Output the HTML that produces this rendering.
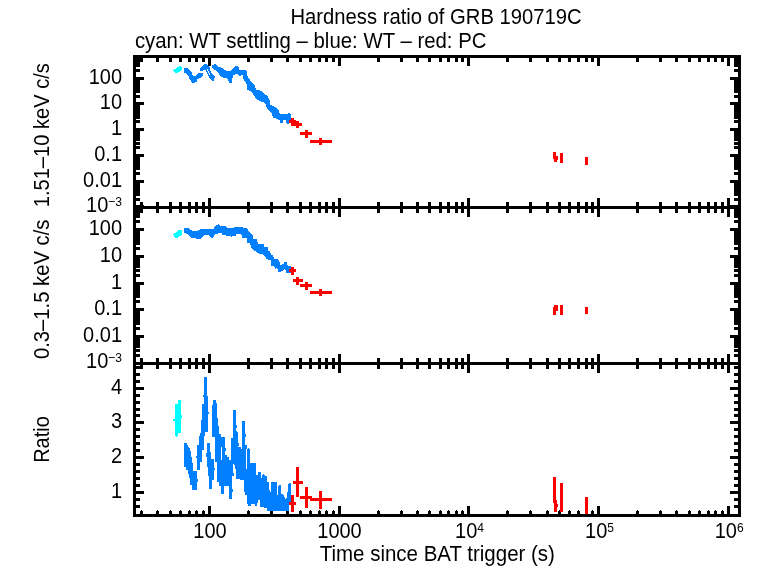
<!DOCTYPE html>
<html lang="en">
<head>
<meta charset="utf-8">
<title>Hardness ratio of GRB 190719C</title>
<style>
html,body{margin:0;padding:0;background:#fff;}
svg{display:block;}
text{font-family:"Liberation Sans",Arial,Helvetica,sans-serif;fill:#000;}
</style>
</head>
<body>
<svg width="758" height="566" viewBox="0 0 758 566">
<rect x="0" y="0" width="758" height="566" fill="#fff"/>
<g shape-rendering="crispEdges">
<rect x="133" y="55" width="3" height="462" fill="#000"/>
<rect x="738" y="55" width="3" height="462" fill="#000"/>
<rect x="133" y="55" width="608" height="3" fill="#000"/>
<rect x="133" y="206" width="608" height="3" fill="#000"/>
<rect x="133" y="362" width="608" height="3" fill="#000"/>
<rect x="133" y="514" width="608" height="3" fill="#000"/>
<rect x="140" y="58" width="3" height="4" fill="#000"/>
<rect x="140" y="202" width="3" height="11" fill="#000"/>
<rect x="140" y="358" width="3" height="11" fill="#000"/>
<rect x="140" y="511" width="3" height="3" fill="#000"/>
<rect x="141" y="510" width="1" height="1" fill="#000"/>
<rect x="156" y="58" width="3" height="4" fill="#000"/>
<rect x="156" y="202" width="3" height="11" fill="#000"/>
<rect x="156" y="358" width="3" height="11" fill="#000"/>
<rect x="156" y="511" width="3" height="3" fill="#000"/>
<rect x="157" y="510" width="1" height="1" fill="#000"/>
<rect x="169" y="58" width="3" height="4" fill="#000"/>
<rect x="169" y="202" width="3" height="11" fill="#000"/>
<rect x="169" y="358" width="3" height="11" fill="#000"/>
<rect x="169" y="511" width="3" height="3" fill="#000"/>
<rect x="170" y="510" width="1" height="1" fill="#000"/>
<rect x="179" y="58" width="3" height="4" fill="#000"/>
<rect x="179" y="202" width="3" height="11" fill="#000"/>
<rect x="179" y="358" width="3" height="11" fill="#000"/>
<rect x="179" y="511" width="3" height="3" fill="#000"/>
<rect x="180" y="510" width="1" height="1" fill="#000"/>
<rect x="188" y="58" width="3" height="4" fill="#000"/>
<rect x="188" y="202" width="3" height="11" fill="#000"/>
<rect x="188" y="358" width="3" height="11" fill="#000"/>
<rect x="188" y="511" width="3" height="3" fill="#000"/>
<rect x="189" y="510" width="1" height="1" fill="#000"/>
<rect x="195" y="58" width="3" height="4" fill="#000"/>
<rect x="195" y="202" width="3" height="11" fill="#000"/>
<rect x="195" y="358" width="3" height="11" fill="#000"/>
<rect x="195" y="511" width="3" height="3" fill="#000"/>
<rect x="196" y="510" width="1" height="1" fill="#000"/>
<rect x="202" y="58" width="3" height="4" fill="#000"/>
<rect x="202" y="202" width="3" height="11" fill="#000"/>
<rect x="202" y="358" width="3" height="11" fill="#000"/>
<rect x="202" y="511" width="3" height="3" fill="#000"/>
<rect x="203" y="510" width="1" height="1" fill="#000"/>
<rect x="208" y="58" width="3" height="8" fill="#000"/>
<rect x="208" y="198" width="3" height="19" fill="#000"/>
<rect x="208" y="354" width="3" height="19" fill="#000"/>
<rect x="208" y="506" width="3" height="8" fill="#000"/>
<rect x="247" y="58" width="3" height="4" fill="#000"/>
<rect x="247" y="202" width="3" height="11" fill="#000"/>
<rect x="247" y="358" width="3" height="11" fill="#000"/>
<rect x="247" y="511" width="3" height="3" fill="#000"/>
<rect x="248" y="510" width="1" height="1" fill="#000"/>
<rect x="270" y="58" width="3" height="4" fill="#000"/>
<rect x="270" y="202" width="3" height="11" fill="#000"/>
<rect x="270" y="358" width="3" height="11" fill="#000"/>
<rect x="270" y="511" width="3" height="3" fill="#000"/>
<rect x="271" y="510" width="1" height="1" fill="#000"/>
<rect x="286" y="58" width="3" height="4" fill="#000"/>
<rect x="286" y="202" width="3" height="11" fill="#000"/>
<rect x="286" y="358" width="3" height="11" fill="#000"/>
<rect x="286" y="511" width="3" height="3" fill="#000"/>
<rect x="287" y="510" width="1" height="1" fill="#000"/>
<rect x="299" y="58" width="3" height="4" fill="#000"/>
<rect x="299" y="202" width="3" height="11" fill="#000"/>
<rect x="299" y="358" width="3" height="11" fill="#000"/>
<rect x="299" y="511" width="3" height="3" fill="#000"/>
<rect x="300" y="510" width="1" height="1" fill="#000"/>
<rect x="309" y="58" width="3" height="4" fill="#000"/>
<rect x="309" y="202" width="3" height="11" fill="#000"/>
<rect x="309" y="358" width="3" height="11" fill="#000"/>
<rect x="309" y="511" width="3" height="3" fill="#000"/>
<rect x="310" y="510" width="1" height="1" fill="#000"/>
<rect x="318" y="58" width="3" height="4" fill="#000"/>
<rect x="318" y="202" width="3" height="11" fill="#000"/>
<rect x="318" y="358" width="3" height="11" fill="#000"/>
<rect x="318" y="511" width="3" height="3" fill="#000"/>
<rect x="319" y="510" width="1" height="1" fill="#000"/>
<rect x="325" y="58" width="3" height="4" fill="#000"/>
<rect x="325" y="202" width="3" height="11" fill="#000"/>
<rect x="325" y="358" width="3" height="11" fill="#000"/>
<rect x="325" y="511" width="3" height="3" fill="#000"/>
<rect x="326" y="510" width="1" height="1" fill="#000"/>
<rect x="332" y="58" width="3" height="4" fill="#000"/>
<rect x="332" y="202" width="3" height="11" fill="#000"/>
<rect x="332" y="358" width="3" height="11" fill="#000"/>
<rect x="332" y="511" width="3" height="3" fill="#000"/>
<rect x="333" y="510" width="1" height="1" fill="#000"/>
<rect x="338" y="58" width="3" height="8" fill="#000"/>
<rect x="338" y="198" width="3" height="19" fill="#000"/>
<rect x="338" y="354" width="3" height="19" fill="#000"/>
<rect x="338" y="506" width="3" height="8" fill="#000"/>
<rect x="377" y="58" width="3" height="4" fill="#000"/>
<rect x="377" y="202" width="3" height="11" fill="#000"/>
<rect x="377" y="358" width="3" height="11" fill="#000"/>
<rect x="377" y="511" width="3" height="3" fill="#000"/>
<rect x="378" y="510" width="1" height="1" fill="#000"/>
<rect x="400" y="58" width="3" height="4" fill="#000"/>
<rect x="400" y="202" width="3" height="11" fill="#000"/>
<rect x="400" y="358" width="3" height="11" fill="#000"/>
<rect x="400" y="511" width="3" height="3" fill="#000"/>
<rect x="401" y="510" width="1" height="1" fill="#000"/>
<rect x="416" y="58" width="3" height="4" fill="#000"/>
<rect x="416" y="202" width="3" height="11" fill="#000"/>
<rect x="416" y="358" width="3" height="11" fill="#000"/>
<rect x="416" y="511" width="3" height="3" fill="#000"/>
<rect x="417" y="510" width="1" height="1" fill="#000"/>
<rect x="428" y="58" width="3" height="4" fill="#000"/>
<rect x="428" y="202" width="3" height="11" fill="#000"/>
<rect x="428" y="358" width="3" height="11" fill="#000"/>
<rect x="428" y="511" width="3" height="3" fill="#000"/>
<rect x="429" y="510" width="1" height="1" fill="#000"/>
<rect x="439" y="58" width="3" height="4" fill="#000"/>
<rect x="439" y="202" width="3" height="11" fill="#000"/>
<rect x="439" y="358" width="3" height="11" fill="#000"/>
<rect x="439" y="511" width="3" height="3" fill="#000"/>
<rect x="440" y="510" width="1" height="1" fill="#000"/>
<rect x="447" y="58" width="3" height="4" fill="#000"/>
<rect x="447" y="202" width="3" height="11" fill="#000"/>
<rect x="447" y="358" width="3" height="11" fill="#000"/>
<rect x="447" y="511" width="3" height="3" fill="#000"/>
<rect x="448" y="510" width="1" height="1" fill="#000"/>
<rect x="455" y="58" width="3" height="4" fill="#000"/>
<rect x="455" y="202" width="3" height="11" fill="#000"/>
<rect x="455" y="358" width="3" height="11" fill="#000"/>
<rect x="455" y="511" width="3" height="3" fill="#000"/>
<rect x="456" y="510" width="1" height="1" fill="#000"/>
<rect x="461" y="58" width="3" height="4" fill="#000"/>
<rect x="461" y="202" width="3" height="11" fill="#000"/>
<rect x="461" y="358" width="3" height="11" fill="#000"/>
<rect x="461" y="511" width="3" height="3" fill="#000"/>
<rect x="462" y="510" width="1" height="1" fill="#000"/>
<rect x="467" y="58" width="3" height="8" fill="#000"/>
<rect x="467" y="198" width="3" height="19" fill="#000"/>
<rect x="467" y="354" width="3" height="19" fill="#000"/>
<rect x="467" y="506" width="3" height="8" fill="#000"/>
<rect x="506" y="58" width="3" height="4" fill="#000"/>
<rect x="506" y="202" width="3" height="11" fill="#000"/>
<rect x="506" y="358" width="3" height="11" fill="#000"/>
<rect x="506" y="511" width="3" height="3" fill="#000"/>
<rect x="507" y="510" width="1" height="1" fill="#000"/>
<rect x="529" y="58" width="3" height="4" fill="#000"/>
<rect x="529" y="202" width="3" height="11" fill="#000"/>
<rect x="529" y="358" width="3" height="11" fill="#000"/>
<rect x="529" y="511" width="3" height="3" fill="#000"/>
<rect x="530" y="510" width="1" height="1" fill="#000"/>
<rect x="546" y="58" width="3" height="4" fill="#000"/>
<rect x="546" y="202" width="3" height="11" fill="#000"/>
<rect x="546" y="358" width="3" height="11" fill="#000"/>
<rect x="546" y="511" width="3" height="3" fill="#000"/>
<rect x="547" y="510" width="1" height="1" fill="#000"/>
<rect x="558" y="58" width="3" height="4" fill="#000"/>
<rect x="558" y="202" width="3" height="11" fill="#000"/>
<rect x="558" y="358" width="3" height="11" fill="#000"/>
<rect x="558" y="511" width="3" height="3" fill="#000"/>
<rect x="559" y="510" width="1" height="1" fill="#000"/>
<rect x="568" y="58" width="3" height="4" fill="#000"/>
<rect x="568" y="202" width="3" height="11" fill="#000"/>
<rect x="568" y="358" width="3" height="11" fill="#000"/>
<rect x="568" y="511" width="3" height="3" fill="#000"/>
<rect x="569" y="510" width="1" height="1" fill="#000"/>
<rect x="577" y="58" width="3" height="4" fill="#000"/>
<rect x="577" y="202" width="3" height="11" fill="#000"/>
<rect x="577" y="358" width="3" height="11" fill="#000"/>
<rect x="577" y="511" width="3" height="3" fill="#000"/>
<rect x="578" y="510" width="1" height="1" fill="#000"/>
<rect x="585" y="58" width="3" height="4" fill="#000"/>
<rect x="585" y="202" width="3" height="11" fill="#000"/>
<rect x="585" y="358" width="3" height="11" fill="#000"/>
<rect x="585" y="511" width="3" height="3" fill="#000"/>
<rect x="586" y="510" width="1" height="1" fill="#000"/>
<rect x="591" y="58" width="3" height="4" fill="#000"/>
<rect x="591" y="202" width="3" height="11" fill="#000"/>
<rect x="591" y="358" width="3" height="11" fill="#000"/>
<rect x="591" y="511" width="3" height="3" fill="#000"/>
<rect x="592" y="510" width="1" height="1" fill="#000"/>
<rect x="597" y="58" width="3" height="8" fill="#000"/>
<rect x="597" y="198" width="3" height="19" fill="#000"/>
<rect x="597" y="354" width="3" height="19" fill="#000"/>
<rect x="597" y="506" width="3" height="8" fill="#000"/>
<rect x="636" y="58" width="3" height="4" fill="#000"/>
<rect x="636" y="202" width="3" height="11" fill="#000"/>
<rect x="636" y="358" width="3" height="11" fill="#000"/>
<rect x="636" y="511" width="3" height="3" fill="#000"/>
<rect x="637" y="510" width="1" height="1" fill="#000"/>
<rect x="659" y="58" width="3" height="4" fill="#000"/>
<rect x="659" y="202" width="3" height="11" fill="#000"/>
<rect x="659" y="358" width="3" height="11" fill="#000"/>
<rect x="659" y="511" width="3" height="3" fill="#000"/>
<rect x="660" y="510" width="1" height="1" fill="#000"/>
<rect x="675" y="58" width="3" height="4" fill="#000"/>
<rect x="675" y="202" width="3" height="11" fill="#000"/>
<rect x="675" y="358" width="3" height="11" fill="#000"/>
<rect x="675" y="511" width="3" height="3" fill="#000"/>
<rect x="676" y="510" width="1" height="1" fill="#000"/>
<rect x="688" y="58" width="3" height="4" fill="#000"/>
<rect x="688" y="202" width="3" height="11" fill="#000"/>
<rect x="688" y="358" width="3" height="11" fill="#000"/>
<rect x="688" y="511" width="3" height="3" fill="#000"/>
<rect x="689" y="510" width="1" height="1" fill="#000"/>
<rect x="698" y="58" width="3" height="4" fill="#000"/>
<rect x="698" y="202" width="3" height="11" fill="#000"/>
<rect x="698" y="358" width="3" height="11" fill="#000"/>
<rect x="698" y="511" width="3" height="3" fill="#000"/>
<rect x="699" y="510" width="1" height="1" fill="#000"/>
<rect x="707" y="58" width="3" height="4" fill="#000"/>
<rect x="707" y="202" width="3" height="11" fill="#000"/>
<rect x="707" y="358" width="3" height="11" fill="#000"/>
<rect x="707" y="511" width="3" height="3" fill="#000"/>
<rect x="708" y="510" width="1" height="1" fill="#000"/>
<rect x="714" y="58" width="3" height="4" fill="#000"/>
<rect x="714" y="202" width="3" height="11" fill="#000"/>
<rect x="714" y="358" width="3" height="11" fill="#000"/>
<rect x="714" y="511" width="3" height="3" fill="#000"/>
<rect x="715" y="510" width="1" height="1" fill="#000"/>
<rect x="721" y="58" width="3" height="4" fill="#000"/>
<rect x="721" y="202" width="3" height="11" fill="#000"/>
<rect x="721" y="358" width="3" height="11" fill="#000"/>
<rect x="721" y="511" width="3" height="3" fill="#000"/>
<rect x="722" y="510" width="1" height="1" fill="#000"/>
<rect x="727" y="58" width="3" height="8" fill="#000"/>
<rect x="727" y="198" width="3" height="19" fill="#000"/>
<rect x="727" y="354" width="3" height="19" fill="#000"/>
<rect x="727" y="506" width="3" height="8" fill="#000"/>
<rect x="136" y="205" width="8" height="3" fill="#000"/>
<rect x="730" y="205" width="8" height="3" fill="#000"/>
<rect x="136" y="198" width="4" height="3" fill="#000"/>
<rect x="734" y="198" width="4" height="3" fill="#000"/>
<rect x="136" y="193" width="4" height="3" fill="#000"/>
<rect x="734" y="193" width="4" height="3" fill="#000"/>
<rect x="136" y="190" width="4" height="3" fill="#000"/>
<rect x="734" y="190" width="4" height="3" fill="#000"/>
<rect x="136" y="187" width="4" height="3" fill="#000"/>
<rect x="734" y="187" width="4" height="3" fill="#000"/>
<rect x="136" y="185" width="4" height="3" fill="#000"/>
<rect x="734" y="185" width="4" height="3" fill="#000"/>
<rect x="136" y="184" width="4" height="3" fill="#000"/>
<rect x="734" y="184" width="4" height="3" fill="#000"/>
<rect x="136" y="182" width="4" height="3" fill="#000"/>
<rect x="734" y="182" width="4" height="3" fill="#000"/>
<rect x="136" y="181" width="4" height="3" fill="#000"/>
<rect x="734" y="181" width="4" height="3" fill="#000"/>
<rect x="136" y="180" width="8" height="3" fill="#000"/>
<rect x="730" y="180" width="8" height="3" fill="#000"/>
<rect x="136" y="172" width="4" height="3" fill="#000"/>
<rect x="734" y="172" width="4" height="3" fill="#000"/>
<rect x="136" y="167" width="4" height="3" fill="#000"/>
<rect x="734" y="167" width="4" height="3" fill="#000"/>
<rect x="136" y="164" width="4" height="3" fill="#000"/>
<rect x="734" y="164" width="4" height="3" fill="#000"/>
<rect x="136" y="162" width="4" height="3" fill="#000"/>
<rect x="734" y="162" width="4" height="3" fill="#000"/>
<rect x="136" y="160" width="4" height="3" fill="#000"/>
<rect x="734" y="160" width="4" height="3" fill="#000"/>
<rect x="136" y="158" width="4" height="3" fill="#000"/>
<rect x="734" y="158" width="4" height="3" fill="#000"/>
<rect x="136" y="156" width="4" height="3" fill="#000"/>
<rect x="734" y="156" width="4" height="3" fill="#000"/>
<rect x="136" y="155" width="4" height="3" fill="#000"/>
<rect x="734" y="155" width="4" height="3" fill="#000"/>
<rect x="136" y="154" width="8" height="3" fill="#000"/>
<rect x="730" y="154" width="8" height="3" fill="#000"/>
<rect x="136" y="146" width="4" height="3" fill="#000"/>
<rect x="734" y="146" width="4" height="3" fill="#000"/>
<rect x="136" y="142" width="4" height="3" fill="#000"/>
<rect x="734" y="142" width="4" height="3" fill="#000"/>
<rect x="136" y="138" width="4" height="3" fill="#000"/>
<rect x="734" y="138" width="4" height="3" fill="#000"/>
<rect x="136" y="136" width="4" height="3" fill="#000"/>
<rect x="734" y="136" width="4" height="3" fill="#000"/>
<rect x="136" y="134" width="4" height="3" fill="#000"/>
<rect x="734" y="134" width="4" height="3" fill="#000"/>
<rect x="136" y="132" width="4" height="3" fill="#000"/>
<rect x="734" y="132" width="4" height="3" fill="#000"/>
<rect x="136" y="131" width="4" height="3" fill="#000"/>
<rect x="734" y="131" width="4" height="3" fill="#000"/>
<rect x="136" y="129" width="4" height="3" fill="#000"/>
<rect x="734" y="129" width="4" height="3" fill="#000"/>
<rect x="136" y="128" width="8" height="3" fill="#000"/>
<rect x="730" y="128" width="8" height="3" fill="#000"/>
<rect x="136" y="120" width="4" height="3" fill="#000"/>
<rect x="734" y="120" width="4" height="3" fill="#000"/>
<rect x="136" y="116" width="4" height="3" fill="#000"/>
<rect x="734" y="116" width="4" height="3" fill="#000"/>
<rect x="136" y="113" width="4" height="3" fill="#000"/>
<rect x="734" y="113" width="4" height="3" fill="#000"/>
<rect x="136" y="110" width="4" height="3" fill="#000"/>
<rect x="734" y="110" width="4" height="3" fill="#000"/>
<rect x="136" y="108" width="4" height="3" fill="#000"/>
<rect x="734" y="108" width="4" height="3" fill="#000"/>
<rect x="136" y="106" width="4" height="3" fill="#000"/>
<rect x="734" y="106" width="4" height="3" fill="#000"/>
<rect x="136" y="105" width="4" height="3" fill="#000"/>
<rect x="734" y="105" width="4" height="3" fill="#000"/>
<rect x="136" y="104" width="4" height="3" fill="#000"/>
<rect x="734" y="104" width="4" height="3" fill="#000"/>
<rect x="136" y="102" width="8" height="3" fill="#000"/>
<rect x="730" y="102" width="8" height="3" fill="#000"/>
<rect x="136" y="95" width="4" height="3" fill="#000"/>
<rect x="734" y="95" width="4" height="3" fill="#000"/>
<rect x="136" y="90" width="4" height="3" fill="#000"/>
<rect x="734" y="90" width="4" height="3" fill="#000"/>
<rect x="136" y="87" width="4" height="3" fill="#000"/>
<rect x="734" y="87" width="4" height="3" fill="#000"/>
<rect x="136" y="84" width="4" height="3" fill="#000"/>
<rect x="734" y="84" width="4" height="3" fill="#000"/>
<rect x="136" y="82" width="4" height="3" fill="#000"/>
<rect x="734" y="82" width="4" height="3" fill="#000"/>
<rect x="136" y="81" width="4" height="3" fill="#000"/>
<rect x="734" y="81" width="4" height="3" fill="#000"/>
<rect x="136" y="79" width="4" height="3" fill="#000"/>
<rect x="734" y="79" width="4" height="3" fill="#000"/>
<rect x="136" y="78" width="4" height="3" fill="#000"/>
<rect x="734" y="78" width="4" height="3" fill="#000"/>
<rect x="136" y="77" width="8" height="3" fill="#000"/>
<rect x="730" y="77" width="8" height="3" fill="#000"/>
<rect x="136" y="69" width="4" height="3" fill="#000"/>
<rect x="734" y="69" width="4" height="3" fill="#000"/>
<rect x="136" y="64" width="4" height="3" fill="#000"/>
<rect x="734" y="64" width="4" height="3" fill="#000"/>
<rect x="136" y="61" width="4" height="3" fill="#000"/>
<rect x="734" y="61" width="4" height="3" fill="#000"/>
<rect x="136" y="59" width="4" height="3" fill="#000"/>
<rect x="734" y="59" width="4" height="3" fill="#000"/>
<rect x="136" y="57" width="4" height="3" fill="#000"/>
<rect x="734" y="57" width="4" height="3" fill="#000"/>
<rect x="136" y="354" width="4" height="3" fill="#000"/>
<rect x="734" y="354" width="4" height="3" fill="#000"/>
<rect x="136" y="349" width="4" height="3" fill="#000"/>
<rect x="734" y="349" width="4" height="3" fill="#000"/>
<rect x="136" y="345" width="4" height="3" fill="#000"/>
<rect x="734" y="345" width="4" height="3" fill="#000"/>
<rect x="136" y="343" width="4" height="3" fill="#000"/>
<rect x="734" y="343" width="4" height="3" fill="#000"/>
<rect x="136" y="341" width="4" height="3" fill="#000"/>
<rect x="734" y="341" width="4" height="3" fill="#000"/>
<rect x="136" y="339" width="4" height="3" fill="#000"/>
<rect x="734" y="339" width="4" height="3" fill="#000"/>
<rect x="136" y="337" width="4" height="3" fill="#000"/>
<rect x="734" y="337" width="4" height="3" fill="#000"/>
<rect x="136" y="336" width="4" height="3" fill="#000"/>
<rect x="734" y="336" width="4" height="3" fill="#000"/>
<rect x="136" y="335" width="8" height="3" fill="#000"/>
<rect x="730" y="335" width="8" height="3" fill="#000"/>
<rect x="136" y="327" width="4" height="3" fill="#000"/>
<rect x="734" y="327" width="4" height="3" fill="#000"/>
<rect x="136" y="322" width="4" height="3" fill="#000"/>
<rect x="734" y="322" width="4" height="3" fill="#000"/>
<rect x="136" y="319" width="4" height="3" fill="#000"/>
<rect x="734" y="319" width="4" height="3" fill="#000"/>
<rect x="136" y="316" width="4" height="3" fill="#000"/>
<rect x="734" y="316" width="4" height="3" fill="#000"/>
<rect x="136" y="314" width="4" height="3" fill="#000"/>
<rect x="734" y="314" width="4" height="3" fill="#000"/>
<rect x="136" y="312" width="4" height="3" fill="#000"/>
<rect x="734" y="312" width="4" height="3" fill="#000"/>
<rect x="136" y="311" width="4" height="3" fill="#000"/>
<rect x="734" y="311" width="4" height="3" fill="#000"/>
<rect x="136" y="309" width="4" height="3" fill="#000"/>
<rect x="734" y="309" width="4" height="3" fill="#000"/>
<rect x="136" y="308" width="8" height="3" fill="#000"/>
<rect x="730" y="308" width="8" height="3" fill="#000"/>
<rect x="136" y="300" width="4" height="3" fill="#000"/>
<rect x="734" y="300" width="4" height="3" fill="#000"/>
<rect x="136" y="295" width="4" height="3" fill="#000"/>
<rect x="734" y="295" width="4" height="3" fill="#000"/>
<rect x="136" y="292" width="4" height="3" fill="#000"/>
<rect x="734" y="292" width="4" height="3" fill="#000"/>
<rect x="136" y="290" width="4" height="3" fill="#000"/>
<rect x="734" y="290" width="4" height="3" fill="#000"/>
<rect x="136" y="287" width="4" height="3" fill="#000"/>
<rect x="734" y="287" width="4" height="3" fill="#000"/>
<rect x="136" y="286" width="4" height="3" fill="#000"/>
<rect x="734" y="286" width="4" height="3" fill="#000"/>
<rect x="136" y="284" width="4" height="3" fill="#000"/>
<rect x="734" y="284" width="4" height="3" fill="#000"/>
<rect x="136" y="283" width="4" height="3" fill="#000"/>
<rect x="734" y="283" width="4" height="3" fill="#000"/>
<rect x="136" y="282" width="8" height="3" fill="#000"/>
<rect x="730" y="282" width="8" height="3" fill="#000"/>
<rect x="136" y="274" width="4" height="3" fill="#000"/>
<rect x="734" y="274" width="4" height="3" fill="#000"/>
<rect x="136" y="269" width="4" height="3" fill="#000"/>
<rect x="734" y="269" width="4" height="3" fill="#000"/>
<rect x="136" y="265" width="4" height="3" fill="#000"/>
<rect x="734" y="265" width="4" height="3" fill="#000"/>
<rect x="136" y="263" width="4" height="3" fill="#000"/>
<rect x="734" y="263" width="4" height="3" fill="#000"/>
<rect x="136" y="261" width="4" height="3" fill="#000"/>
<rect x="734" y="261" width="4" height="3" fill="#000"/>
<rect x="136" y="259" width="4" height="3" fill="#000"/>
<rect x="734" y="259" width="4" height="3" fill="#000"/>
<rect x="136" y="257" width="4" height="3" fill="#000"/>
<rect x="734" y="257" width="4" height="3" fill="#000"/>
<rect x="136" y="256" width="4" height="3" fill="#000"/>
<rect x="734" y="256" width="4" height="3" fill="#000"/>
<rect x="136" y="255" width="8" height="3" fill="#000"/>
<rect x="730" y="255" width="8" height="3" fill="#000"/>
<rect x="136" y="247" width="4" height="3" fill="#000"/>
<rect x="734" y="247" width="4" height="3" fill="#000"/>
<rect x="136" y="242" width="4" height="3" fill="#000"/>
<rect x="734" y="242" width="4" height="3" fill="#000"/>
<rect x="136" y="239" width="4" height="3" fill="#000"/>
<rect x="734" y="239" width="4" height="3" fill="#000"/>
<rect x="136" y="236" width="4" height="3" fill="#000"/>
<rect x="734" y="236" width="4" height="3" fill="#000"/>
<rect x="136" y="234" width="4" height="3" fill="#000"/>
<rect x="734" y="234" width="4" height="3" fill="#000"/>
<rect x="136" y="232" width="4" height="3" fill="#000"/>
<rect x="734" y="232" width="4" height="3" fill="#000"/>
<rect x="136" y="231" width="4" height="3" fill="#000"/>
<rect x="734" y="231" width="4" height="3" fill="#000"/>
<rect x="136" y="229" width="4" height="3" fill="#000"/>
<rect x="734" y="229" width="4" height="3" fill="#000"/>
<rect x="136" y="228" width="8" height="3" fill="#000"/>
<rect x="730" y="228" width="8" height="3" fill="#000"/>
<rect x="136" y="220" width="4" height="3" fill="#000"/>
<rect x="734" y="220" width="4" height="3" fill="#000"/>
<rect x="136" y="215" width="4" height="3" fill="#000"/>
<rect x="734" y="215" width="4" height="3" fill="#000"/>
<rect x="136" y="212" width="4" height="3" fill="#000"/>
<rect x="734" y="212" width="4" height="3" fill="#000"/>
<rect x="136" y="210" width="4" height="3" fill="#000"/>
<rect x="734" y="210" width="4" height="3" fill="#000"/>
<rect x="136" y="207" width="4" height="3" fill="#000"/>
<rect x="734" y="207" width="4" height="3" fill="#000"/>
<rect x="136" y="505" width="4" height="3" fill="#000"/>
<rect x="734" y="505" width="4" height="3" fill="#000"/>
<rect x="136" y="498" width="4" height="3" fill="#000"/>
<rect x="734" y="498" width="4" height="3" fill="#000"/>
<rect x="136" y="491" width="8" height="3" fill="#000"/>
<rect x="730" y="491" width="8" height="3" fill="#000"/>
<rect x="136" y="484" width="4" height="3" fill="#000"/>
<rect x="734" y="484" width="4" height="3" fill="#000"/>
<rect x="136" y="477" width="4" height="3" fill="#000"/>
<rect x="734" y="477" width="4" height="3" fill="#000"/>
<rect x="136" y="470" width="4" height="3" fill="#000"/>
<rect x="734" y="470" width="4" height="3" fill="#000"/>
<rect x="136" y="463" width="4" height="3" fill="#000"/>
<rect x="734" y="463" width="4" height="3" fill="#000"/>
<rect x="136" y="456" width="8" height="3" fill="#000"/>
<rect x="730" y="456" width="8" height="3" fill="#000"/>
<rect x="136" y="449" width="4" height="3" fill="#000"/>
<rect x="734" y="449" width="4" height="3" fill="#000"/>
<rect x="136" y="442" width="4" height="3" fill="#000"/>
<rect x="734" y="442" width="4" height="3" fill="#000"/>
<rect x="136" y="435" width="4" height="3" fill="#000"/>
<rect x="734" y="435" width="4" height="3" fill="#000"/>
<rect x="136" y="428" width="4" height="3" fill="#000"/>
<rect x="734" y="428" width="4" height="3" fill="#000"/>
<rect x="136" y="421" width="8" height="3" fill="#000"/>
<rect x="730" y="421" width="8" height="3" fill="#000"/>
<rect x="136" y="414" width="4" height="3" fill="#000"/>
<rect x="734" y="414" width="4" height="3" fill="#000"/>
<rect x="136" y="408" width="4" height="3" fill="#000"/>
<rect x="734" y="408" width="4" height="3" fill="#000"/>
<rect x="136" y="401" width="4" height="3" fill="#000"/>
<rect x="734" y="401" width="4" height="3" fill="#000"/>
<rect x="136" y="394" width="4" height="3" fill="#000"/>
<rect x="734" y="394" width="4" height="3" fill="#000"/>
<rect x="136" y="387" width="8" height="3" fill="#000"/>
<rect x="730" y="387" width="8" height="3" fill="#000"/>
<rect x="136" y="380" width="4" height="3" fill="#000"/>
<rect x="734" y="380" width="4" height="3" fill="#000"/>
<rect x="136" y="373" width="4" height="3" fill="#000"/>
<rect x="734" y="373" width="4" height="3" fill="#000"/>
<rect x="136" y="366" width="4" height="3" fill="#000"/>
<rect x="734" y="366" width="4" height="3" fill="#000"/>
<polygon points="172.9,70.5 179.5,65.9 180.7,65.9 182.1,67.5 182.1,69.9 177.9,72.9 175.5,72.9" fill="#00ffff"/>
<polygon points="184.2,68.1 187.4,68.1 191.8,72.3 192.1,75 194.9,76.2 199.7,72.6 202.8,72.6 202.8,75.8 199.7,78.2 196.9,79.8 196.5,81.8 194.9,82.9 191.8,82.9 191,80.2 189,78.6 188.6,76.2 185.8,73 184.2,72.6" fill="#0080ff"/>
<polygon points="200.1,68.3 204,64.3 206.8,64.2 209.2,66.3 210.8,71.9 215.1,77 213.5,80.6 211.9,80.6 209.2,77.8 206.8,73 206,70.3 204.4,69.9 202,71.1 200.1,70.7" fill="#0080ff"/>
<line x1="206.8" y1="69" x2="210.3" y2="75.5" stroke="#fff" stroke-width="1"/>
<polygon points="212.4,65.5 215.5,64 217.9,66.3 221,67.5 226.2,70.7 231,70.7 233.3,68.3 235.7,65.9 238.5,66.7 239.3,69.5 244.4,69.5 246.8,71.5 247.6,77 250.8,81 254.7,84.9 255.9,89.6 259.8,90 263.8,93.5 267.8,96.3 269.7,100.6 270.1,104.6 274.1,106.2 278.8,110.5 279.2,113.3 286.8,114.5 289.5,112.9 291.1,114.9 291.1,120 289.1,124 286.8,124 286,120.4 283.2,120.4 282.8,122.8 280,122.8 280,120 277.3,119.3 272.9,117.3 271.7,112.9 267.4,109.4 265,103 261,101.4 255.9,99.1 253.9,95.2 250.8,91.3 247.2,89.7 246.8,84.1 243.2,78.6 242.8,75 239.7,75.8 236.5,73.8 232.9,75.4 231.8,82.5 229,82.5 227,77.8 223.8,77.8 220.7,76.2 216.7,71 212.4,68.3" fill="#0080ff"/>
<rect x="289" y="120" width="7" height="3" fill="#ff0000"/>
<rect x="291" y="118" width="3" height="6" fill="#ff0000"/>
<rect x="291" y="123" width="11" height="3" fill="#ff0000"/>
<rect x="296" y="121" width="3" height="7" fill="#ff0000"/>
<rect x="300" y="132" width="12" height="3" fill="#ff0000"/>
<rect x="305" y="130" width="3" height="8" fill="#ff0000"/>
<rect x="310" y="140" width="22" height="3" fill="#ff0000"/>
<rect x="319" y="138" width="3" height="7" fill="#ff0000"/>
<rect x="553" y="152" width="3" height="7" fill="#ff0000"/>
<rect x="554" y="156" width="3" height="6" fill="#ff0000"/>
<rect x="557" y="156" width="1" height="4" fill="#ff0000"/>
<rect x="560" y="153" width="3" height="10" fill="#ff0000"/>
<rect x="585" y="157" width="3" height="8" fill="#ff0000"/>
<polygon points="173,234.5 179.2,229.9 181.9,230.5 181.9,234.5 177.9,237.8 175.2,237.8" fill="#00ffff"/>
<polygon points="184.1,228.2 188,228.2 192.7,231.1 196.9,231.1 200.8,229 213.9,228.6 215.2,226 218.6,223.9 220.7,226 225.8,226 227.5,227.7 234.2,227.7 235.1,226.9 242.7,227.1 243.1,227.9 246.9,228.1 248.2,230.9 252.8,235.1 253.3,238.9 257.1,239.4 257.9,244 260.9,244.5 263.8,244 264.3,246.6 267.7,247.4 268.1,250.8 270.2,251.7 271.2,254.5 272.8,254.9 273.8,258 275,259.3 278.8,259.6 279.8,263.1 280.1,265 282,265 282.3,264.1 283.9,264.1 284.3,262.2 286.8,262.2 287.1,265 288.7,266.3 290.9,266.3 290.9,273 289,273 286.2,273 285.8,270.4 284.3,269.2 283,270.4 281.4,270.8 281.1,271.7 278.2,271.7 277.9,269.2 276.3,267.9 276,268.8 275,268.8 274.1,266 271.2,265.7 270.9,259.9 268.4,259.9 266.1,258.7 264.9,255.8 262.2,254.2 259.2,253.8 256.2,252.1 251.1,247.4 249.9,243.2 247.3,242.8 246.9,238.1 242.7,237.7 242.3,237.5 241.4,234.1 236.4,233.7 235.5,236.2 231.3,236.6 227,235.8 222.4,234.5 221.5,233.3 214.7,233.7 214.3,236.2 212.2,238.8 208,235 204.2,235 200.3,238.8 196.9,238.8 194.8,237.9 191.9,237.9 188,234.5 184.1,232.4" fill="#0080ff"/>
<rect x="289" y="269" width="7" height="3" fill="#ff0000"/>
<rect x="291" y="267" width="3" height="8" fill="#ff0000"/>
<rect x="293" y="279" width="10" height="3" fill="#ff0000"/>
<rect x="296" y="277" width="3" height="8" fill="#ff0000"/>
<rect x="300" y="284" width="12" height="3" fill="#ff0000"/>
<rect x="305" y="282" width="3" height="8" fill="#ff0000"/>
<rect x="310" y="291" width="22" height="3" fill="#ff0000"/>
<rect x="319" y="289" width="3" height="7" fill="#ff0000"/>
<rect x="553" y="307" width="3" height="8" fill="#ff0000"/>
<rect x="554" y="305" width="4" height="6" fill="#ff0000"/>
<rect x="560" y="305" width="3" height="10" fill="#ff0000"/>
<rect x="585" y="307" width="3" height="7" fill="#ff0000"/>
<rect x="175" y="404" width="3" height="32" fill="#00ffff"/>
<rect x="178" y="400" width="3" height="33" fill="#00ffff"/>
<rect x="173" y="419" width="2" height="2" fill="#00ffff"/>
<rect x="181" y="415" width="1" height="3" fill="#00ffff"/>
<rect x="176" y="436" width="1" height="1" fill="#00ffff"/>
<polygon points="184,443 187,443 188,446 190,449 191,452 192,461 193,464 193,471 197,471 197,479 198,479 198,482 197,482 197,490 195,490 192,490 192,485 190,485 190,478 189,478 189,474 188,474 188,470 186,470 186,467 184,467" fill="#0080ff"/>
<polygon points="197,470 197,458 196,458 196,456 197,456 197,445 199,445 199,436 200,436 200,433 201,433 201,420 202,420 202,404 204,404 204,397 203,397 203,395 204,395 204,377 207,377 207,396 208,396 208,412 209,412 209,414 208,414 208,432 205,432 205,436 204,436 204,450 202,450 202,462 200,462 200,470" fill="#0080ff"/>
<polygon points="207,443 210,443 210,452 211,452 211,459 214,459 214,468 215,468 215,470 214,470 214,480 212,480 212,489 209,489 209,476 208,476 208,467 207,467 207,457 206,457 206,453 207,453" fill="#0080ff"/>
<polygon points="213,400 216,400 216,403 217,403 217,418 218,418 218,426 219,426 219,434 221,434 221,437 225,437 225,448 226,448 226,451 225,451 225,455 227,455 227,457 229,457 229,460 231,460 231,438 232,438 233,438 233,410 236,410 236,425 237,425 237,428 236,428 236,431 237,431 237,432 238,432 238,443 239,443 239,446 238,446 238,447 241,447 241,449 242,449 242,421 245,421 245,434 246,434 246,437 245,437 245,445 247,445 247,449 248,448 250,449 250,463 256,463 256,475 258,475 258,472 261,472 261,478 262,478 262,475 263,474 265,475 265,476 267,476 267,482 269,482 269,490 270,490 270,492 271,492 271,482 277,482 277,495 278,495 278,486 280,485 281,486 281,494 282,494 284,495 285,499 286,499 287,497 287,492 288,492 288,484 290,483 291,484 291,502 289,502 289,511 284,511 284,511 275,511 275,511 267,511 267,508 264,508 264,507 260,507 260,500 258,500 258,503 257,503 257,506 255,506 255,504 251,504 251,506 248,506 248,504 247,504 247,495 245,495 245,492 244,492 244,480 243,480 243,480 240,480 240,479 236,479 236,473 235,465 233,464 233,473 234,473 234,476 232,476 232,489 233,489 233,492 232,492 232,499 229,499 229,486 224,486 224,494 221,494 221,486 219,486 219,482 217,482 217,462 215,462 215,437 212,437 212,405 213,405" fill="#0080ff"/>
<rect x="246" y="449" width="1" height="20" fill="#fff"/>
<rect x="221" y="447" width="1" height="13" fill="#fff"/>
<rect x="289" y="502" width="7" height="3" fill="#ff0000"/>
<rect x="291" y="495" width="3" height="17" fill="#ff0000"/>
<rect x="293" y="481" width="10" height="3" fill="#ff0000"/>
<rect x="296" y="467" width="3" height="30" fill="#ff0000"/>
<rect x="300" y="496" width="12" height="3" fill="#ff0000"/>
<rect x="305" y="487" width="3" height="21" fill="#ff0000"/>
<rect x="310" y="498" width="22" height="3" fill="#ff0000"/>
<rect x="319" y="491" width="3" height="18" fill="#ff0000"/>
<rect x="553" y="477" width="3" height="26" fill="#ff0000"/>
<rect x="554" y="500" width="3" height="12" fill="#ff0000"/>
<rect x="557" y="504" width="1" height="3" fill="#ff0000"/>
<rect x="560" y="483" width="3" height="29" fill="#ff0000"/>
<rect x="585" y="497" width="3" height="17" fill="#ff0000"/>
</g>
<g>
<text transform="translate(436.05,24) scale(1.0116,1.07)" font-size="20" text-anchor="middle">Hardness ratio of GRB 190719C</text>
<text transform="translate(134.9,47.5) scale(1.02,1.07)" font-size="20" text-anchor="start">cyan: WT settling – blue: WT – red: PC</text>
<text transform="translate(437.3,561) scale(1.025,1.07)" font-size="20" text-anchor="middle">Time since BAT trigger (s)</text>
<text transform="translate(122,84) scale(1.0,1.07)" font-size="20" text-anchor="end">100</text>
<text transform="translate(122,235) scale(1.0,1.07)" font-size="20" text-anchor="end">100</text>
<text transform="translate(122,109) scale(1.0,1.07)" font-size="20" text-anchor="end">10</text>
<text transform="translate(122,262) scale(1.0,1.07)" font-size="20" text-anchor="end">10</text>
<text transform="translate(122,135) scale(1.0,1.07)" font-size="20" text-anchor="end">1</text>
<text transform="translate(122,289) scale(1.0,1.07)" font-size="20" text-anchor="end">1</text>
<text transform="translate(122,161) scale(1.0,1.07)" font-size="20" text-anchor="end">0.1</text>
<text transform="translate(122,315) scale(1.0,1.07)" font-size="20" text-anchor="end">0.1</text>
<text transform="translate(122,187) scale(1.0,1.07)" font-size="20" text-anchor="end">0.01</text>
<text transform="translate(122,342) scale(1.0,1.07)" font-size="20" text-anchor="end">0.01</text>
<text transform="translate(122,212) scale(1,1.07)" font-size="20" text-anchor="end">10<tspan font-size="12" dy="-5.6">−3</tspan></text>
<text transform="translate(122,368) scale(1,1.07)" font-size="20" text-anchor="end">10<tspan font-size="12" dy="-5.6">−3</tspan></text>
<text transform="translate(122,498) scale(1.0,1.07)" font-size="20" text-anchor="end">1</text>
<text transform="translate(122,463) scale(1.0,1.07)" font-size="20" text-anchor="end">2</text>
<text transform="translate(122,428) scale(1.0,1.07)" font-size="20" text-anchor="end">3</text>
<text transform="translate(122,394) scale(1.0,1.07)" font-size="20" text-anchor="end">4</text>
<text transform="translate(210,538) scale(1.0,1.07)" font-size="20" text-anchor="middle">100</text>
<text transform="translate(339.5,538) scale(1.0,1.07)" font-size="20" text-anchor="middle">1000</text>
<text transform="translate(469.5,538) scale(1,1.07)" font-size="20" text-anchor="middle">10<tspan font-size="12" dy="-5.6">4</tspan></text>
<text transform="translate(599.5,538) scale(1,1.07)" font-size="20" text-anchor="middle">10<tspan font-size="12" dy="-5.6">5</tspan></text>
<text transform="translate(729.2,538) scale(1,1.07)" font-size="20" text-anchor="middle">10<tspan font-size="12" dy="-5.6">6</tspan></text>
<text transform="translate(49.3,135.2) rotate(-90) scale(1.005,1.07)" font-size="20" text-anchor="middle">1.51–10 keV c/s</text>
<text transform="translate(49.3,289.3) rotate(-90) scale(1.012,1.07)" font-size="20" text-anchor="middle">0.3–1.5 keV c/s</text>
<text transform="translate(49.3,439.5) rotate(-90) scale(1.0,1.07)" font-size="20" text-anchor="middle">Ratio</text>
</g>
</svg>
</body>
</html>
